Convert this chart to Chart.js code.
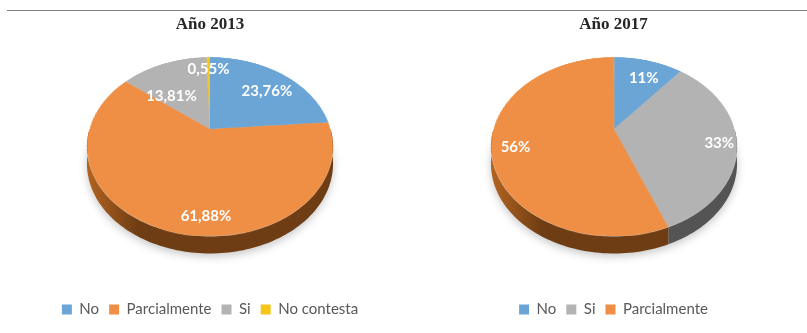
<!DOCTYPE html>
<html>
<head>
<meta charset="utf-8">
<script src="https://cdn.jsdelivr.net/npm/chart.js@4.4.1/dist/chart.umd.min.js"></script>
<style>
  body { margin: 0; background: #fff; width: 807px; height: 333px; position: relative; overflow: hidden; }
  .rule { position: absolute; top: 10px; left: 7px; right: 0; border-top: 1px solid #808080; }
  canvas { position: absolute; top: 0; }
  #chart2013 { left: 0; }
  #chart2017 { left: 420px; }
</style>
</head>
<body>
<div class="rule"></div>
<canvas id="chart2013" width="420" height="333"></canvas>
<canvas id="chart2017" width="387" height="333"></canvas>
<script>
// survey answers, in percent
const labels2013 = ['No', 'Parcialmente', 'Si', 'No contesta'];
const values2013 = [23.76, 61.88, 13.81, 0.55];
const labels2017 = ['No', 'Si', 'Parcialmente'];
const values2017 = [11, 33, 56];

const palette = {
  'No': '#6aa5d6',
  'Parcialmente': '#ee8f45',
  'Si': '#b3b3b3',
  'No contesta': '#f5c518'
};
const sidePalette = {
  'No': ['#4a7ba6', '#2f5677'],
  'Parcialmente': ['#b0621f', '#6f3d14'],
  'Si': ['#6e6e6e', '#545454'],
  'No contesta': ['#b38c10', '#8a6b0a']
};

// Chart.js draws a flat pie; afterwards it is tilted back in perspective
// (row by row) and a wall is added under the front edge.
const pie3d = {
  id: 'pie3d',
  afterDatasetsDraw(chart, args, o) {
    const ctx = chart.ctx;
    const dpr = chart.currentDevicePixelRatio;
    const meta = chart.getDatasetMeta(0);
    const first = meta.data[0];
    const r = first.outerRadius;
    const names = chart.data.labels;
    const values = chart.data.datasets[0].data;

    // screen position of a point (u, v) on the unit disc, v > 0 towards the viewer
    const project = (u, v) => {
      const s = 1 / (1 - o.persp * v);
      return [o.cx + o.R * u * s, o.cy + o.K * v * s];
    };
    const rim = (t, drop) => {
      const p = project(Math.cos(t), Math.sin(t));
      return [p[0], p[1] + drop];
    };

    // lift the flat pie off the canvas
    const x0 = Math.floor(first.x - r - 2), y0 = Math.floor(first.y - r - 2);
    const size = Math.ceil(2 * r + 4);
    const flat = document.createElement('canvas');
    flat.width = size * dpr;
    flat.height = size * dpr;
    flat.getContext('2d').drawImage(chart.canvas, x0 * dpr, y0 * dpr, size * dpr, size * dpr, 0, 0, size * dpr, size * dpr);
    ctx.clearRect(x0, y0, size, size);
    const fx = first.x - x0, fy = first.y - y0;

    // soft shadow under the disc
    ctx.save();
    ctx.filter = 'blur(4px)';
    ctx.fillStyle = 'rgba(0,0,0,0.22)';
    ctx.beginPath();
    for (let k = 0; k <= 120; k++) {
      const p = rim(k / 120 * Math.PI * 2, o.depth + 3);
      k ? ctx.lineTo(p[0], p[1]) : ctx.moveTo(p[0], p[1]);
    }
    ctx.fill();
    ctx.restore();

    // wall under the front half of each slice
    meta.data.forEach((arc, i) => {
      const a = Math.max(arc.startAngle, 0);
      const b = Math.min(arc.endAngle, Math.PI);
      if (b <= a) return;
      const shades = sidePalette[names[i]];
      const grad = ctx.createLinearGradient(o.cx - o.R, 0, o.cx + o.R, 0);
      grad.addColorStop(0, shades[0]);
      grad.addColorStop(0.2, shades[1]);
      grad.addColorStop(1, shades[1]);
      const n = Math.max(2, Math.ceil((b - a) * 40));
      ctx.save();
      ctx.fillStyle = grad;
      ctx.beginPath();
      for (let k = 0; k <= n; k++) {
        const p = rim(a + (b - a) * k / n, 0);
        k ? ctx.lineTo(p[0], p[1]) : ctx.moveTo(p[0], p[1]);
      }
      for (let k = n; k >= 0; k--) {
        const p = rim(a + (b - a) * k / n, o.depth);
        ctx.lineTo(p[0], p[1]);
      }
      ctx.closePath();
      ctx.fill();
      ctx.restore();
    });

    // top face, one screen row at a time
    const top = Math.floor(o.cy - o.K / (1 + o.persp));
    const bottom = Math.ceil(o.cy + o.K / (1 - o.persp));
    for (let y = top; y <= bottom; y++) {
      const dy = y + 0.5 - o.cy;
      const v = dy / (o.K + o.persp * dy);
      if (v < -1 || v > 1) continue;
      const s = 1 / (1 - o.persp * v);
      const sy = fy + r * v - 0.5;
      ctx.drawImage(flat, (fx - r) * dpr, sy * dpr, 2 * r * dpr, dpr,
        o.cx - o.R * s, y, 2 * o.R * s, 1);
    }

    // value labels, nudged along the slice where they would crowd
    ctx.save();
    ctx.fillStyle = '#ffffff';
    ctx.font = 'bold 15px Lato';
    ctx.textAlign = 'center';
    ctx.textBaseline = 'middle';
    meta.data.forEach((arc, i) => {
      const mid = (arc.startAngle + arc.endAngle) / 2 + (o.labelTurn[i] || 0) * Math.PI / 180;
      const f = o.labelAt[i];
      const p = project(f * Math.cos(mid), f * Math.sin(mid));
      const text = values[i].toFixed(o.decimals).replace('.', ',') + '%';
      ctx.fillText(text, p[0], p[1]);
    });
    ctx.restore();
  }
};

function makePie(canvasId, title, labels, values, view) {
  return new Chart(document.getElementById(canvasId), {
    type: 'pie',
    data: {
      labels: labels,
      datasets: [{
        data: values,
        backgroundColor: labels.map(l => palette[l]),
        borderWidth: 0
      }]
    },
    options: {
      responsive: false,
      animation: false,
      events: [],
      layout: { padding: { bottom: 6 } },
      plugins: {
        title: {
          display: true,
          text: title,
          color: '#262626',
          font: { family: 'Liberation Serif', size: 17, weight: 'bold' },
          padding: { top: 14, bottom: 10 }
        },
        legend: {
          position: 'bottom',
          labels: {
            boxWidth: 10,
            boxHeight: 10,
            padding: 10,
            color: '#595959',
            font: { family: 'Lato', size: 15 }
          }
        },
        tooltip: { enabled: false },
        pie3d: Object.assign({ cy: 129, R: 120.6, K: 86.2, persp: 0.198, depth: 17 }, view)
      }
    },
    plugins: [pie3d]
  });
}

makePie('chart2013', 'Año 2013', labels2013, values2013,
  { cx: 210, decimals: 2, labelAt: [0.71, 0.84, 0.54, 0.8], labelTurn: [4, -15, -13, 0] });
makePie('chart2017', 'Año 2017', labels2017, values2017,
  { cx: 194, decimals: 0, labelAt: [0.72, 0.86, 0.81], labelTurn: [3, 2, -4] });
</script>
</body>
</html>
